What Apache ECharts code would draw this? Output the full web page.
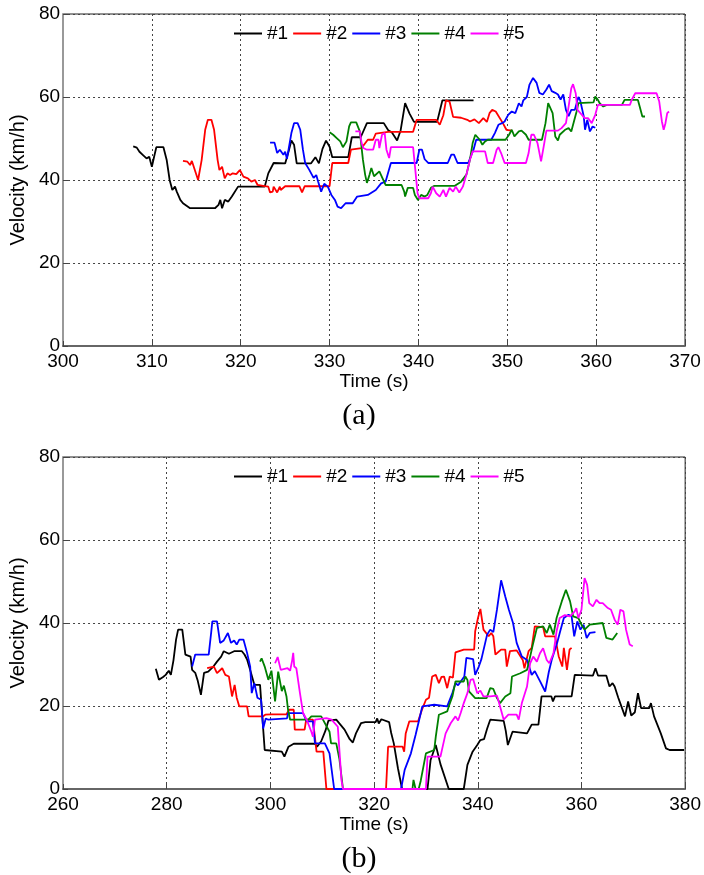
<!DOCTYPE html>
<html>
<head>
<meta charset="utf-8">
<script src="https://cdn.jsdelivr.net/npm/echarts@6/dist/echarts.min.js"></script>
<style>
  html, body { margin: 0; padding: 0; background: #fff; }
  #chart { width: 704px; height: 875px; }
</style>
</head>
<body>
<div id="chart"></div>
<script>
// Legend / series names
const names = ['#1', '#2', '#3', '#4', '#5'];
const colors = ['#000000', '#ff0000', '#0000ff', '#008000', '#ff00ff'];

// Axis ticks
const aXTicks = [300, 310, 320, 330, 340, 350, 360, 370];
const bXTicks = [260, 280, 300, 320, 340, 360, 380];
const yTicks = [0, 20, 40, 60, 80];

// ---- Panel (a): time (s) and velocity (km/h) per vehicle ----
const aT1 = [307.9,308.3,308.6,309.0,309.4,309.7,310.0,310.25,310.5,311.3,311.66,312.0,312.3,312.6,312.8,313.2,313.5,314.3,317.1,317.5,317.7,317.9,318.2,318.6,319.0,319.7,322.7,323.1,323.7,325.0,325.4,325.7,326.0,326.3,327.9,328.4,328.8,329.2,329.6,330.0,330.3,332.1,332.5,333.5,334.2,336.1,336.6,337.0,337.6,338.0,338.5,339.0,339.5,342.1,342.7,346.2];
const aV1 = [48.1,47.8,46.8,46.0,45.2,45.6,43.2,45.6,47.9,47.9,44.9,40.0,37.6,38.4,37.2,35.2,34.4,33.2,33.2,34.0,35.2,33.2,35.2,34.8,36.0,38.4,38.4,41.6,44.1,44.0,47.0,49.5,48.5,44.0,44.0,45.5,44.0,47.5,49.5,48.0,45.5,45.5,50.3,50.3,53.7,53.7,52.0,51.5,49.5,52.0,58.5,56.0,54.0,54.0,59.2,59.2];

const aT2 = [313.5,314.0,314.3,314.5,315.2,315.6,316.0,316.3,316.7,317.0,317.4,317.6,317.9,318.2,318.5,318.8,319.1,319.5,319.9,320.3,320.8,321.2,321.6,321.9,322.5,323.1,323.3,323.6,323.7,324.1,324.4,324.5,325.0,326.6,326.9,327.2,330.0,330.3,332.1,332.4,333.6,334.3,334.9,335.2,336.6,339.4,339.8,342.0,342.4,342.8,343.1,343.5,343.9,344.8,345.5,345.8,346.3,346.8,347.3,347.7,348.0,348.3,348.7,349.5,349.7,349.9,350.1,350.5];
const aV2 = [44.6,44.4,43.6,44.6,40.0,44.8,52.1,54.5,54.5,52.1,44.8,42.4,43.2,40.4,41.6,41.2,41.6,41.4,42.4,40.8,40.4,39.6,40.0,38.8,38.6,38.4,37.0,37.2,38.4,37.0,38.4,37.6,38.5,38.5,37.0,38.5,38.5,44.1,44.1,47.3,47.7,49.7,49.7,51.2,51.6,51.6,54.5,54.5,53.3,55.6,59.2,58.9,55.2,55.0,54.5,54.1,54.6,53.7,54.9,54.0,56.1,56.9,56.5,53.7,54.1,52.1,51.7,51.9];

const aT3 = [323.3,323.8,324.1,324.4,324.8,325.0,325.2,325.7,326.0,326.4,326.7,327.0,327.25,327.7,328.2,328.5,328.7,329.05,329.4,329.8,330.2,330.6,330.9,331.3,331.8,332.6,333.1,334.3,335.2,335.8,336.3,336.9,339.8,340.1,340.4,340.7,341.1,343.3,343.7,344.0,344.4,345.6,346.2,346.5,348.2,348.6,349.0,349.4,349.7,350.1,350.5,350.9,351.3,351.6,351.8,352.2,352.5,352.9,353.3,353.6,354.0,354.4,354.7,355.0,355.4,355.7,356.0,356.3,356.6,356.9,357.2,357.6,358.0,358.2,358.6,358.75,359.0,359.3,359.6,359.9];
const aV3 = [49.0,49.0,46.5,47.3,46.1,46.8,45.1,51.3,53.7,53.7,52.1,47.3,44.1,42.5,40.5,41.2,39.7,37.2,39.1,38.4,36.4,35.2,33.6,33.2,34.4,34.4,36.0,36.4,37.6,39.2,39.6,44.1,44.1,47.3,47.3,45.0,44.1,44.1,46.1,46.1,44.1,44.1,47.3,49.7,49.7,51.3,53.3,53.7,54.1,55.7,56.5,56.1,58.5,57.7,59.2,60.0,63.0,64.6,63.4,61.0,60.6,61.8,63.0,61.4,61.0,60.6,59.4,60.6,56.9,55.4,56.9,56.9,60.0,59.2,55.4,52.1,54.5,51.7,52.9,52.6];

const aT4 = [330.0,330.4,330.8,331.2,331.5,331.9,332.2,332.4,333.0,333.4,333.75,334.0,334.2,334.5,334.7,335.0,335.2,335.6,335.8,336.3,336.8,338.1,338.4,338.5,338.8,339.4,339.6,339.95,340.3,340.7,341.0,341.4,341.8,344.1,344.8,345.4,345.8,346.1,346.4,346.9,347.2,347.5,347.8,349.8,350.2,350.5,350.8,351.3,351.6,352.1,352.4,353.9,354.3,354.6,354.8,355.1,355.4,355.7,355.9,356.5,356.9,357.2,357.5,357.8,358.0,359.7,359.9,360.2,360.4,360.8,361.2,362.9,363.2,364.7,364.9,365.2,365.5];
const aV4 = [51.5,50.9,50.1,49.3,47.9,49.3,52.9,53.9,53.9,51.7,44.9,41.3,39.3,41.3,42.9,40.9,40.5,42.1,41.9,38.8,38.8,38.8,37.2,36.0,38.1,38.1,36.4,35.2,36.4,36.0,36.4,38.1,38.6,38.6,39.6,41.3,44.9,48.9,50.9,49.7,48.5,49.3,49.7,49.7,50.9,52.1,50.5,51.7,51.9,50.9,49.7,49.7,53.7,58.5,58.9,56.1,50.5,49.5,50.9,52.1,52.5,51.7,54.1,56.5,58.5,58.7,60.1,59.3,58.5,57.7,58.1,58.1,59.3,59.3,57.7,55.3,55.3];

const aT5 = [332.9,333.4,333.6,333.8,334.2,334.9,335.2,335.5,335.6,335.9,336.2,336.4,336.7,336.9,339.4,339.65,339.9,340.1,341.1,341.4,341.6,342.0,342.4,342.8,343.1,343.5,343.9,344.2,344.6,345.0,345.4,345.8,346.1,347.5,347.8,348.0,348.4,348.8,349.0,349.3,349.7,352.1,352.4,352.7,353.0,353.4,353.8,354.1,354.4,355.7,356.1,356.6,356.9,357.2,357.4,357.7,357.9,358.4,358.7,359.1,359.5,359.9,360.2,363.8,364.0,364.4,366.8,367.1,367.4,367.6,367.8,368.0,368.2];
const aV5 = [51.7,51.7,48.9,47.7,47.3,47.3,49.7,49.7,47.7,50.9,51.3,47.3,45.3,47.9,47.9,42.4,36.8,35.6,35.6,36.8,38.4,36.8,36.0,37.6,36.0,38.1,37.2,38.4,37.0,38.4,41.3,44.9,46.9,46.9,44.1,43.7,44.1,47.3,47.9,46.5,44.1,44.1,46.5,50.9,50.9,48.9,44.5,48.1,51.9,51.9,52.5,53.7,57.7,62.1,63.1,60.9,56.9,55.7,54.9,54.9,53.7,55.7,58.1,58.1,59.3,60.9,60.9,58.9,54.1,52.1,53.7,56.1,56.5];

// ---- Panel (b): time (s) and velocity (km/h) per vehicle ----
const bT1 = [277.9,278.5,279.3,279.8,280.4,280.8,281.3,281.8,282.2,283.0,283.6,284.6,284.9,285.5,286.0,286.6,287.2,288.0,289.0,289.7,290.5,291.0,292.0,293.0,294.5,295.0,295.5,296.1,296.9,298.0,298.9,302.2,302.7,303.5,304.5,308.6,309.0,309.8,310.6,311.2,312.7,314.3,315.3,315.9,316.5,317.5,318.3,320.3,320.6,320.9,321.4,322.9,323.3,323.8,324.6,325.4,330.3,330.9,331.9,332.8,334.4,337.3,338.0,339.0,339.9,340.5,341.2,341.8,342.4,345.0,345.4,345.8,346.7,349.5,350.4,351.7,352.3,354.2,354.5,354.9,358.1,358.7,362.2,362.7,363.2,364.8,365.4,366.0,366.4,367.1,367.7,368.4,369.0,369.6,370.3,370.9,371.5,373.1,373.4,374.0,375.3,376.3,377.0,379.8];
const bV1 = [29.0,26.3,27.0,27.5,28.5,27.5,31.0,36.0,38.4,38.4,32.4,31.9,28.7,28.0,26.0,22.7,28.0,28.3,29.5,30.7,31.9,33.2,32.6,33.2,33.2,32.4,31.2,28.7,25.1,25.1,9.4,9.0,7.8,10.2,10.9,10.9,10.2,11.5,14.0,16.5,16.7,14.3,12.0,11.2,13.4,15.9,16.1,16.1,17.0,15.8,16.8,16.1,13.5,11.0,5.0,0,0,7.0,10.6,6.0,0,0,5.8,9.0,10.6,11.8,12.0,14.5,16.7,16.4,14.0,10.6,13.8,13.4,15.5,15.5,22.3,22.3,21.1,22.3,22.3,27.5,27.3,29.1,27.3,27.3,24.7,25.5,24.7,22.0,19.9,17.5,21.1,17.7,18.5,23.1,19.5,19.5,20.7,17.5,13.4,9.8,9.4,9.4];

const bT2 = [287.8,289.1,289.7,290.7,291.3,292.0,292.6,293.1,293.5,294.0,295.5,295.8,298.6,299.0,300.1,303.1,303.6,304.5,304.7,306.6,306.9,308.2,308.9,310.2,310.8,322.3,322.7,325.5,325.8,326.1,326.8,328.5,329.2,330.0,330.6,331.2,331.9,332.5,333.0,333.5,334.1,334.6,335.2,335.7,337.3,339.3,339.5,340.0,340.5,341.1,342.1,342.6,343.0,343.4,344.5,345.3,345.6,346.2,347.5,348.7,349.0,349.8,350.4,351.0,352.6,353.0,354.9,355.6,356.3,356.6,357.2,357.7,358.1];
const bV2 = [29.1,29.5,27.9,29.1,27.5,27.1,22.3,25.1,22.0,19.9,19.9,17.5,17.5,17.9,18.0,18.0,19.1,19.1,14.3,14.3,16.7,16.7,9.0,9.0,0,0,10.2,10.2,9.0,13.4,16.3,16.3,19.0,21.5,22.0,27.1,27.5,25.5,27.0,27.1,24.3,27.1,26.8,32.9,33.6,33.6,38.0,41.0,43.4,38.4,36.8,37.6,36.8,32.4,33.6,33.6,29.5,33.2,33.4,31.0,29.1,33.2,34.0,39.2,39.0,36.8,36.8,32.0,29.5,34.0,28.7,33.6,34.0];

const bT3 = [284.9,285.5,288.1,288.6,288.8,289.7,290.3,291.0,291.8,292.4,293.0,293.5,294.0,294.8,295.5,296.1,296.4,296.9,297.5,298.2,298.6,299.1,299.6,303.2,303.4,306.3,307.0,308.2,308.6,310.5,311.4,312.3,325.2,325.9,327.1,328.0,328.7,329.3,331.6,334.1,335.1,335.7,336.2,337.4,337.8,339.1,339.5,340.2,340.7,341.8,342.4,343.0,343.7,344.5,345.3,346.0,346.8,347.5,348.5,349.5,350.4,351.0,352.0,353.0,353.7,354.3,355.3,355.9,356.6,357.5,358.1,358.6,359.2,359.8,360.4,361.0,361.6,362.7];
const bV3 = [29.5,32.4,32.4,38.0,40.4,40.4,35.2,35.8,37.6,35.2,35.8,34.8,36.0,36.0,32.8,29.5,23.1,25.5,22.0,21.5,14.6,17.0,16.7,17.0,18.3,18.3,16.3,16.3,11.0,11.0,8.6,0,0,4.6,8.6,13.0,16.7,19.9,20.3,19.9,23.1,25.5,25.0,27.1,31.6,31.3,27.5,29.5,31.3,37.2,38.4,37.8,43.2,50.3,46.4,43.2,40.0,35.2,31.9,31.1,27.5,28.4,26.0,23.5,28.2,31.3,35.2,38.0,41.2,42.0,41.6,36.8,40.4,38.4,39.6,36.4,37.6,37.8];

const bT4 = [298.0,298.3,298.9,299.6,300.2,300.9,301.5,302.2,302.6,303.1,303.4,303.8,307.3,307.9,309.8,311.4,311.7,312.7,313.3,314.0,327.4,327.6,328.0,328.6,329.0,330.0,331.6,331.9,332.5,334.1,334.4,335.1,335.7,337.3,337.6,338.0,338.3,339.5,341.7,342.4,343.0,343.7,344.3,345.3,346.3,346.6,348.2,349.5,350.1,350.7,351.4,352.6,353.3,353.9,354.6,355.2,356.2,357.0,357.8,358.4,359.4,360.0,360.6,361.6,364.1,364.8,366.0,366.9];
const bV4 = [30.7,31.5,29.5,26.3,28.5,21.1,28.3,23.6,24.9,22.3,19.1,16.7,16.7,17.5,17.5,13.8,11.0,11.0,7.3,0,0,2.2,0,0,2.0,8.6,9.4,12.6,17.9,18.7,19.9,22.3,25.9,25.9,27.1,26.3,23.5,21.9,21.9,24.3,24.1,21.9,20.7,22.3,23.1,27.1,27.9,28.7,31.9,35.2,38.8,39.2,37.6,39.6,37.2,41.2,45.2,48.0,45.2,41.6,41.2,39.6,38.4,39.6,40.0,36.4,36.0,37.6];

const bT5 = [300.9,301.4,302.0,303.3,303.8,304.2,304.4,304.6,305.0,305.7,306.3,307.0,307.9,308.2,308.6,310.8,311.8,313.0,313.7,314.0,330.0,330.3,332.8,333.8,334.8,335.7,336.2,336.7,337.3,338.0,338.6,339.1,339.9,340.5,341.1,342.4,343.7,344.3,345.0,345.9,347.5,347.9,348.5,349.5,350.1,350.7,351.4,352.0,352.6,353.3,353.8,354.6,355.2,355.8,356.8,357.8,358.7,359.0,359.4,360.0,360.6,361.1,361.5,362.2,362.9,363.5,364.1,365.1,365.7,366.4,367.0,367.5,368.1,368.6,369.3,369.9];
const bV5 = [30.3,31.8,28.7,29.1,28.5,31.0,32.8,29.5,29.1,23.1,18.3,16.7,13.8,12.6,16.7,17.1,16.7,15.0,2.2,0,0,7.8,7.8,13.4,15.9,17.5,16.5,18.3,20.7,23.1,26.3,26.5,23.1,23.7,22.3,22.3,22.5,19.9,16.7,17.9,17.9,16.7,20.7,24.7,30.3,31.9,30.7,32.7,33.9,31.1,30.3,32.7,38.0,41.2,41.9,41.6,42.8,43.6,41.2,43.2,50.8,49.2,44.8,44.0,45.6,44.8,44.8,43.6,43.2,40.8,39.6,43.2,42.8,38.4,34.8,34.4];

const panelA = [[aT1, aV1], [aT2, aV2], [aT3, aV3], [aT4, aV4], [aT5, aV5]];
const panelB = [[bT1, bV1], [bT2, bV2], [bT3, bV3], [bT4, bV4], [bT5, bV5]];

const zip = (t, v) => t.map((x, i) => [x, v[i]]);

const FONT = 'Liberation Sans, Arial, sans-serif';
const gridDash = { color: '#444', width: 1, type: [2, 3] };
const tick = { show: true, inside: true, length: 5, lineStyle: { color: '#444', width: 1 } };

function xAxisFor(gridIndex, ticks) {
  return {
    type: 'value', gridIndex,
    min: ticks[0], max: ticks[ticks.length - 1], interval: ticks[1] - ticks[0],
    name: 'Time (s)', nameLocation: 'middle', nameGap: 25,
    nameTextStyle: { fontFamily: FONT, fontSize: 19, color: '#000' },
    axisLine: { show: true, lineStyle: { color: '#666', width: 2 } },
    axisTick: tick,
    axisLabel: { fontFamily: FONT, fontSize: 19, color: '#000', margin: 6 },
    splitLine: { show: true, lineStyle: gridDash }
  };
}
function yAxisFor(gridIndex) {
  return {
    type: 'value', gridIndex,
    min: yTicks[0], max: yTicks[yTicks.length - 1], interval: yTicks[1] - yTicks[0],
    name: 'Velocity (km/h)', nameLocation: 'middle', nameGap: 24,
    nameTextStyle: { fontFamily: FONT, fontSize: 20, color: '#000' },
    axisLine: { show: true, lineStyle: { color: '#999', width: 2 } },
    axisTick: tick,
    axisLabel: { fontFamily: FONT, fontSize: 19, color: '#000', margin: 3 },
    splitLine: { show: true, lineStyle: gridDash }
  };
}

const series = [];
[panelA, panelB].forEach((panel, p) => {
  panel.forEach(([t, v], i) => {
    series.push({
      type: 'line', name: names[i], xAxisIndex: p, yAxisIndex: p,
      data: zip(t, v), showSymbol: false, symbol: 'none',
      lineStyle: { color: colors[i], width: 1.8 },
      itemStyle: { color: colors[i] },
      animation: false, z: 3
    });
  });
});

function legendAt(top) {
  return {
    data: names, left: 229, top, orient: 'horizontal',
    icon: 'rect', itemWidth: 28, itemHeight: 2, itemGap: 5,
    textStyle: { fontFamily: FONT, fontSize: 19, color: '#000' },
    selectedMode: false
  };
}

const chart = echarts.init(document.getElementById('chart'), null, { renderer: 'canvas' });
chart.setOption({
  backgroundColor: '#fff',
  animation: false,
  grid: [
    { left: 62, top: 14, width: 623, height: 332, show: true, borderColor: '#222', borderWidth: 1, backgroundColor: '#fff' },
    { left: 60, top: 457, width: 626, height: 332, show: true, borderColor: '#222', borderWidth: 1, backgroundColor: '#fff' }
  ],
  legend: [legendAt(19), legendAt(462)],
  xAxis: [xAxisFor(0, aXTicks), xAxisFor(1, bXTicks)],
  yAxis: [yAxisFor(0), yAxisFor(1)],
  series,
  graphic: [
    { type: 'text', x: 359, y: 416, style: { text: '(a)', font: '30px "Liberation Serif", "Times New Roman", serif', fill: '#000', align: 'center', verticalAlign: 'middle', textAlign: 'center', textVerticalAlign: 'middle' } },
    { type: 'text', x: 359, y: 859, style: { text: '(b)', font: '30px "Liberation Serif", "Times New Roman", serif', fill: '#000', align: 'center', verticalAlign: 'middle', textAlign: 'center', textVerticalAlign: 'middle' } }
  ]
});
</script>
</body>
</html>
